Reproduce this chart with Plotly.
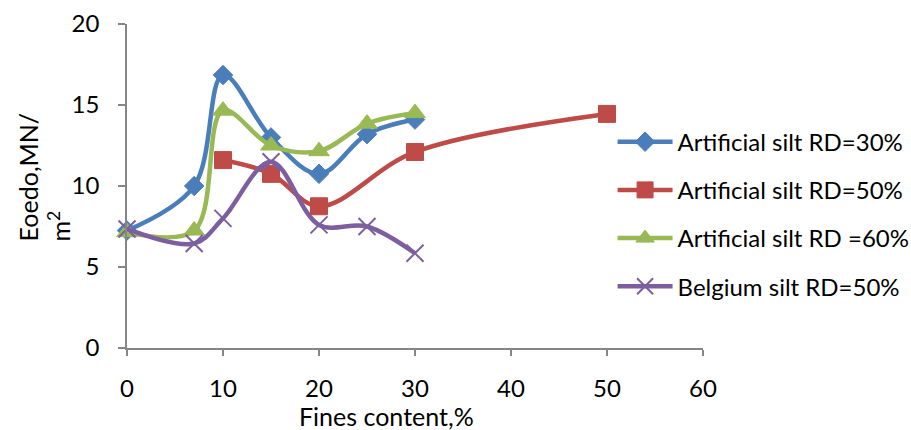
import plotly.graph_objects as go

# Fines content (%) and oedometric modulus (MN/m2) per soil series
fines_art30 = [0, 7, 10, 15, 20, 25, 30]
eoedo_art30 = [7.25, 10.0, 16.85, 13.0, 10.75, 13.2, 14.1]

fines_art50 = [10, 15, 20, 30, 50]
eoedo_art50 = [11.6, 10.75, 8.75, 12.1, 14.45]

fines_art60 = [0, 7, 10, 15, 20, 25, 30]
eoedo_art60 = [7.15, 7.25, 14.65, 12.5, 12.15, 13.85, 14.5]

fines_bel50 = [0, 7, 10, 15, 20, 25, 30]
eoedo_bel50 = [7.35, 6.45, 8.0, 11.5, 7.6, 7.5, 5.85]

series_names = [
    "Artificial silt RD=30%",
    "Artificial silt RD=50%",
    "Artificial silt RD =60%",
    "Belgium silt RD=50%",
]

FONT = "Lato"
FS = 24
TITLE_FS = 25
AXIS_GREY = "#868686"

# plot area in pixels: x 127..703, y 24..348
L, R, T, B = 127, 208, 24, 82
PW, PH = 911 - L - R, 430 - T - B

styles = [
    dict(color="#4A7EBB", symbol="diamond", size=15),
    dict(color="#BE4B48", symbol="square", size=17),
    dict(color="#98B954", symbol="triangle-up", size=18),
    dict(color="#7D5FA0", symbol="x-thin", size=17),
]

data = [
    (fines_art30, eoedo_art30),
    (fines_art50, eoedo_art50),
    (fines_art60, eoedo_art60),
    (fines_bel50, eoedo_bel50),
]

fig = go.Figure()
for i, ((xs, ys), name, st) in enumerate(zip(data, series_names, styles)):
    marker = dict(symbol=st["symbol"], size=st["size"], color=st["color"],
                  line=dict(color=st["color"], width=2 if st["symbol"] == "x-thin" else 1))
    fig.add_trace(go.Scatter(
        x=xs, y=ys, name=name, mode="lines+markers",
        line=dict(color=st["color"], width=4.5, shape="spline", smoothing=1.0),
        marker=marker, cliponaxis=False, legendgroup=f"g{i}",
    ))

fig.update_layout(
    width=911, height=430,
    margin=dict(l=L, r=R, t=T, b=B, autoexpand=False),
    paper_bgcolor="white", plot_bgcolor="white",
    font=dict(family=FONT, size=FS, color="black"),
    showlegend=True,
    legend=dict(
        x=0.843, y=0.705, xanchor="left", yanchor="top",
        font=dict(family=FONT, size=FS, color="black"),
        itemwidth=55, tracegroupgap=14, traceorder="grouped",
        bgcolor="rgba(0,0,0,0)",
    ),
)

fig.update_xaxes(
    range=[0, 60], tickmode="linear", tick0=0, dtick=10,
    showline=True, linecolor=AXIS_GREY, linewidth=1.5,
    ticks="outside", ticklen=6, tickcolor=AXIS_GREY, tickwidth=1.5,
    ticklabelstandoff=12, showgrid=False, zeroline=False,
    tickfont=dict(family=FONT, size=FS, color="black"),
)
fig.update_yaxes(
    range=[0, 20], tickmode="linear", tick0=0, dtick=5,
    showline=True, linecolor=AXIS_GREY, linewidth=1.5,
    ticks="outside", ticklen=7, tickcolor=AXIS_GREY, tickwidth=1.5,
    ticklabelstandoff=14, showgrid=False, zeroline=False,
    tickfont=dict(family=FONT, size=FS, color="black"),
)

# Axis titles
fig.add_annotation(
    text="Fines content,%", xref="paper", yref="paper",
    x=(386 - L) / PW, y=-(416 - (T + PH)) / PH, xanchor="center", yanchor="middle",
    showarrow=False, font=dict(family=FONT, size=TITLE_FS, color="black"),
)
fig.add_annotation(
    text="Eoedo,MN/<br>m<sup>2</sup>", xref="paper", yref="paper",
    x=-(L - 44) / PW, y=((T + PH) - 244) / PH, xanchor="center", yanchor="bottom",
    textangle=-90, align="left", showarrow=False,
    font=dict(family=FONT, size=TITLE_FS, color="black"),
)

fig.write_html("out.html")
